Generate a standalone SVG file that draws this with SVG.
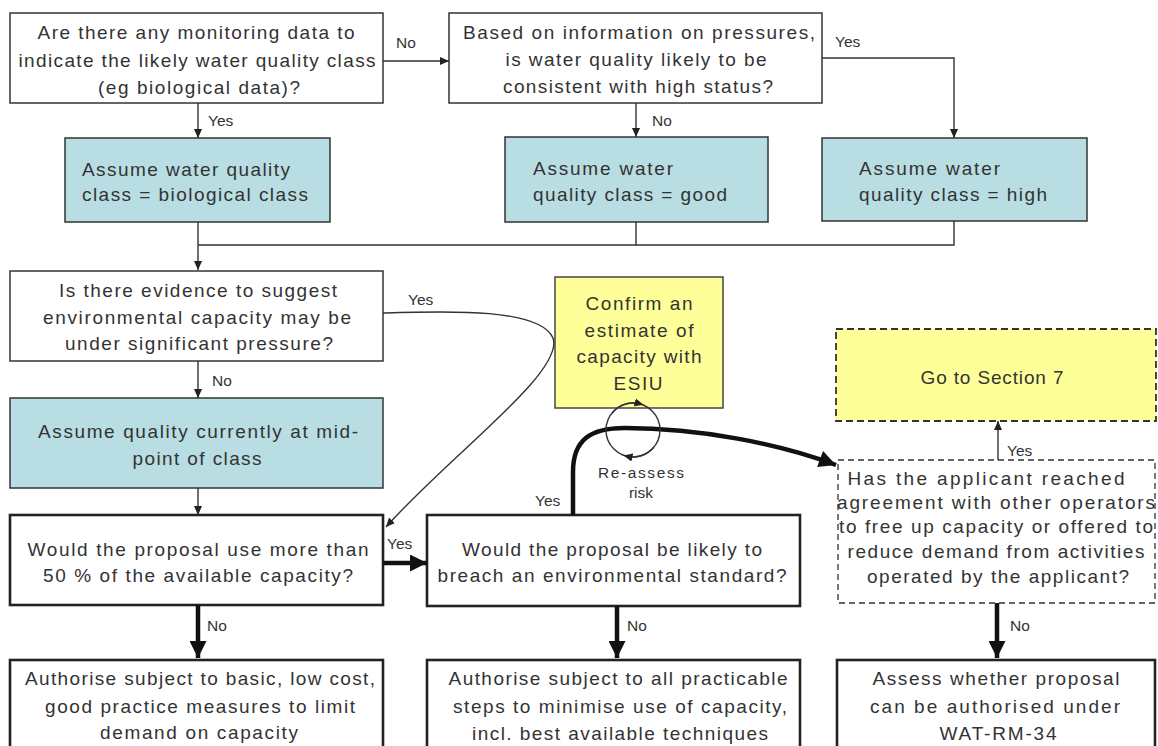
<svg xmlns="http://www.w3.org/2000/svg" width="1158" height="746" viewBox="0 0 1158 746">
<style>
  .t{font-family:"Liberation Sans",Arial,sans-serif;font-size:19px;fill:#333;}
  .c{text-anchor:middle;}
  .lb{font-family:"Liberation Sans",Arial,sans-serif;font-size:15.5px;fill:#333;}
  .box{fill:#fff;stroke:#333;stroke-width:1.5;}
  .boxb{fill:#fff;stroke:#222;stroke-width:2.6;}
  .blue{fill:#b8dde2;stroke:#333;stroke-width:1.5;}
  .yel{fill:#ffff99;stroke:#444;stroke-width:1.5;}
  .dash{fill:#fff;stroke:#333;stroke-width:1.3;stroke-dasharray:6 4;}
  .dashy{fill:#ffff99;stroke:#333;stroke-width:1.8;stroke-dasharray:7 4;}
  .ln{fill:none;stroke:#333;stroke-width:1.4;}
  .thk{fill:none;stroke:#111;stroke-width:4.5;}
</style>
<defs>
  <marker id="ah" viewBox="0 0 10 10" refX="10" refY="5" markerWidth="9" markerHeight="9" markerUnits="userSpaceOnUse" orient="auto">
    <path d="M0,0.5 L10,5 L0,9.5 z" fill="#222"/>
  </marker>
  <marker id="ahk" viewBox="0 0 10 10" refX="10" refY="5" markerWidth="18" markerHeight="17" markerUnits="userSpaceOnUse" orient="auto">
    <path d="M0,0 L10,5 L0,10 z" fill="#111"/>
  </marker>
  <marker id="ahs" viewBox="0 0 10 10" refX="6" refY="5" markerWidth="9" markerHeight="9" markerUnits="userSpaceOnUse" orient="auto">
    <path d="M0,0.5 L10,5 L0,9.5 z" fill="#222"/>
  </marker>
</defs>
<rect width="1158" height="746" fill="#fff"/>

<g id="q1">
  <rect class="box" x="10" y="13" width="373" height="90"/>
  <text class="t c" x="196" y="39" textLength="317" lengthAdjust="spacing">Are there any monitoring data to</text>
  <text class="t c" x="197" y="67" textLength="357" lengthAdjust="spacing">indicate the likely water quality class</text>
  <text class="t c" x="199" y="94" textLength="202" lengthAdjust="spacing">(eg biological data)?</text>
</g>

<g id="q2">
  <rect class="box" x="449" y="13" width="373" height="90"/>
  <text class="t c" x="639" y="39" textLength="352" lengthAdjust="spacing">Based on information on pressures,</text>
  <text class="t c" x="636" y="66" textLength="261" lengthAdjust="spacing">is water quality likely to be</text>
  <text class="t c" x="638" y="93" textLength="270" lengthAdjust="spacing">consistent with high status?</text>
</g>

<g id="a1">
  <rect class="blue" x="65" y="138" width="265" height="84"/>
  <text class="t" x="82" y="176" textLength="208" lengthAdjust="spacing">Assume water quality</text>
  <text class="t" x="82" y="201" textLength="226" lengthAdjust="spacing">class = biological class</text>
</g>

<g id="a2">
  <rect class="blue" x="505" y="137" width="263" height="85"/>
  <text class="t" x="533" y="175" textLength="140" lengthAdjust="spacing">Assume water</text>
  <text class="t" x="533" y="201" textLength="194" lengthAdjust="spacing">quality class = good</text>
</g>

<g id="a3">
  <rect class="blue" x="822" y="138" width="265" height="83"/>
  <text class="t" x="859" y="175" textLength="141" lengthAdjust="spacing">Assume water</text>
  <text class="t" x="859" y="201" textLength="188" lengthAdjust="spacing">quality class = high</text>
</g>

<g id="q3">
  <rect class="box" x="10" y="271" width="373" height="90"/>
  <text class="t c" x="198" y="297" textLength="278" lengthAdjust="spacing">Is there evidence to suggest</text>
  <text class="t c" x="197" y="324" textLength="308" lengthAdjust="spacing">environmental capacity may be</text>
  <text class="t c" x="199" y="350" textLength="268" lengthAdjust="spacing">under significant pressure?</text>
</g>

<g id="a4">
  <rect class="blue" x="10" y="398" width="373" height="90"/>
  <text class="t c" x="198" y="438" textLength="320" lengthAdjust="spacing">Assume quality currently at mid-</text>
  <text class="t c" x="197" y="465" textLength="129" lengthAdjust="spacing">point of class</text>
</g>

<g id="esiu">
  <rect class="yel" x="555" y="277" width="168" height="131"/>
  <text class="t c" x="639" y="310" textLength="107" lengthAdjust="spacing">Confirm an</text>
  <text class="t c" x="639" y="337" textLength="109" lengthAdjust="spacing">estimate of</text>
  <text class="t c" x="639" y="363" textLength="125" lengthAdjust="spacing">capacity with</text>
  <text class="t c" x="638" y="390" textLength="49" lengthAdjust="spacing">ESIU</text>
</g>

<g id="sec7">
  <rect class="dashy" x="836" y="329" width="320" height="92"/>
  <text class="t c" x="992" y="384" textLength="143" lengthAdjust="spacing">Go to Section 7</text>
</g>

<g id="q5">
  <rect class="boxb" x="10" y="515" width="373" height="90"/>
  <text class="t c" x="198" y="556" textLength="341" lengthAdjust="spacing">Would the proposal use more than</text>
  <text class="t c" x="198" y="582" textLength="310" lengthAdjust="spacing">50 % of the available capacity?</text>
</g>

<g id="q7">
  <rect class="boxb" x="427" y="515" width="373" height="91"/>
  <text class="t c" x="612" y="556" textLength="300" lengthAdjust="spacing">Would the proposal be likely to</text>
  <text class="t c" x="612" y="582" textLength="349" lengthAdjust="spacing">breach an environmental standard?</text>
</g>

<g id="qagree">
  <rect class="dash" x="838" y="460" width="317" height="143"/>
  <text class="t c" x="986" y="485" textLength="277" lengthAdjust="spacing">Has the applicant reached</text>
  <text class="t c" x="996" y="509" textLength="318" lengthAdjust="spacing">agreement with other operators</text>
  <text class="t c" x="996" y="533" textLength="314" lengthAdjust="spacing">to free up capacity or offered to</text>
  <text class="t c" x="996" y="558" textLength="297" lengthAdjust="spacing">reduce demand from activities</text>
  <text class="t c" x="998" y="583" textLength="262" lengthAdjust="spacing">operated by the applicant?</text>
</g>

<g id="r1">
  <rect class="boxb" x="10" y="660" width="373" height="100"/>
  <text class="t c" x="200" y="685" textLength="350" lengthAdjust="spacing">Authorise subject to basic, low cost,</text>
  <text class="t c" x="200" y="713" textLength="310" lengthAdjust="spacing">good practice measures to limit</text>
  <text class="t c" x="199" y="739" textLength="198" lengthAdjust="spacing">demand on capacity</text>
</g>

<g id="r2">
  <rect class="boxb" x="427" y="660" width="373" height="100"/>
  <text class="t c" x="618" y="685" textLength="339" lengthAdjust="spacing">Authorise subject to all practicable</text>
  <text class="t c" x="620" y="713" textLength="334" lengthAdjust="spacing">steps to minimise use of capacity,</text>
  <text class="t c" x="620" y="740" textLength="296" lengthAdjust="spacing">incl. best available techniques</text>
</g>

<g id="r3">
  <rect class="boxb" x="837" y="660" width="318" height="100"/>
  <text class="t c" x="996" y="685" textLength="247" lengthAdjust="spacing">Assess whether proposal</text>
  <text class="t c" x="995" y="713" textLength="250" lengthAdjust="spacing">can be authorised under</text>
  <text class="t c" x="998" y="740" textLength="117" lengthAdjust="spacing">WAT-RM-34</text>
</g>

<g id="connectors">
  <path class="ln" d="M383,61 H449" marker-end="url(#ah)"/>
  <path class="ln" d="M198,103 V138" marker-end="url(#ah)"/>
  <path class="ln" d="M636,103 V137" marker-end="url(#ah)"/>
  <path class="ln" d="M822,58 H954 V138" marker-end="url(#ah)"/>
  <path class="ln" d="M198,222 V270" marker-end="url(#ah)"/>
  <path class="ln" d="M636,222 V245 H198"/>
  <path class="ln" d="M954,221 V245 H636"/>
  <path class="ln" d="M198,361 V398" marker-end="url(#ah)"/>
  <path class="ln" d="M198,488 V515" marker-end="url(#ah)"/>
  <path class="ln" d="M383,313 C450,311 540,308 553,338 C565,372 450,455 386,527" marker-end="url(#ah)"/>
  <path class="ln" d="M998,460 V421" marker-end="url(#ah)"/>
  <path class="thk" d="M198,605 V658" marker-end="url(#ahk)"/>
  <path class="thk" d="M383,563 H427" marker-end="url(#ahk)"/>
  <path class="thk" d="M617,606 V658" marker-end="url(#ahk)"/>
  <path class="thk" d="M997,603 V658" marker-end="url(#ahk)"/>
  <path class="thk" d="M573,515 L573,472 C573,440 590,428 625,428 C700,428 780,444 836,465" marker-end="url(#ahk)"/>
  <circle class="ln" cx="633" cy="430" r="27"/>
  <path class="ln" d="M612,413 A27,27 0 0 1 640,403.9" marker-end="url(#ahs)"/>
  <path class="ln" d="M654,447 A27,27 0 0 1 627,456.3" marker-end="url(#ahs)"/>
</g>

<g id="labels">
  <text class="lb" x="396" y="48">No</text>
  <text class="lb" x="208" y="126">Yes</text>
  <text class="lb" x="652" y="126">No</text>
  <text class="lb" x="835" y="47">Yes</text>
  <text class="lb" x="408" y="305">Yes</text>
  <text class="lb" x="212" y="386">No</text>
  <text class="lb" x="387" y="549">Yes</text>
  <text class="lb" x="535" y="506">Yes</text>
  <text class="lb" x="207" y="631">No</text>
  <text class="lb" x="627" y="631">No</text>
  <text class="lb" x="1010" y="631">No</text>
  <text class="lb" x="1007" y="456">Yes</text>
  <text class="lb c" x="641" y="478" textLength="86" lengthAdjust="spacing">Re-assess</text>
  <text class="lb c" x="641" y="498">risk</text>
</g>
</svg>
